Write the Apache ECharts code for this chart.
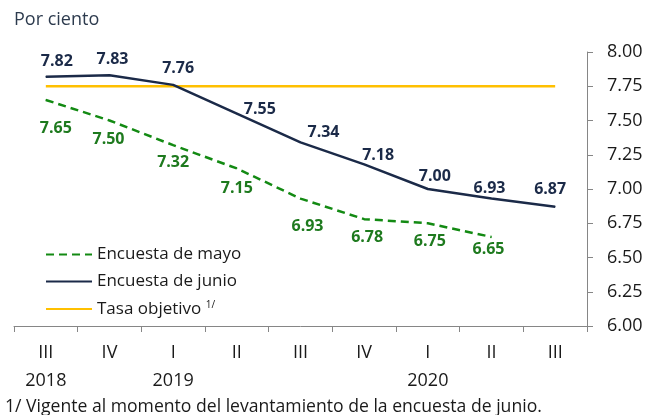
<!DOCTYPE html>
<html><head><meta charset="utf-8">
<script src="https://cdn.jsdelivr.net/npm/echarts@6/dist/echarts.min.js"></script>
<style>html,body{margin:0;padding:0;background:#fff}#c{width:661px;height:415px}</style>
</head><body><div id="c"></div>
<script>
var categories = ['III','IV','I','II','III','IV','I','II','III'];
var years = ['2018','','2019','','','','2020','',''];
var junio = [7.82,7.83,7.76,7.55,7.34,7.18,7.00,6.93,6.87];
var mayo = [7.65,7.50,7.32,7.15,6.93,6.78,6.75,6.65];
var tasa = [7.75,7.75,7.75,7.75,7.75,7.75,7.75,7.75,7.75];
var yTicks = {min:6, max:8, interval:0.25};

var junioOff = [[11,-15],[3,-16],[5,-16],[23,-4],[23,-10],[14,-9],[7,-13],[-2,-10],[-5,-17]];
var mayoOff = [[10,28],[-1,19],[0,17],[0,20],[7,28],[3,18],[2,18],[-3,12]];

var FONT = '"Open Sans", sans-serif';
function items(vals, offs){
  return vals.map(function(v,i){return {value:v, label:{offset:offs[i]}};});
}
var chart = echarts.init(document.getElementById('c'));
chart.setOption({
  animation:false,
  textStyle:{fontFamily:FONT},
  title:{text:'Por ciento', left:9, top:6, textStyle:{fontFamily:FONT, fontSize:18, fontWeight:'normal', color:'#2d3b4e'}},
  graphic:[{type:'text', left:5, top:398, style:{text:'1/ Vigente al momento del levantamiento de la encuesta de junio.', font:'17.6px '+FONT, fill:'#1a1a1a'}}],
  grid:{left:14, right:74, top:52, bottom:89, containLabel:false},
  legend:{
    orient:'vertical', left:40, top:241, itemWidth:46, itemHeight:14, itemGap:10,
    itemStyle:{opacity:0},
    textStyle:{fontFamily:FONT, fontSize:17, color:'#1a1a1a', rich:{sup:{fontSize:10, verticalAlign:'top', padding:[0,0,8,0], color:'#1a1a1a', fontFamily:FONT}}},
    formatter:function(n){return n==='Tasa objetivo' ? 'Tasa objetivo {sup|1/}' : n;},
    data:['Encuesta de mayo','Encuesta de junio','Tasa objetivo']
  },
  xAxis:{
    type:'category', data:categories, boundaryGap:true,
    axisLine:{lineStyle:{color:'#868686', width:1}},
    axisTick:{show:true, length:6, lineStyle:{color:'#868686'}},
    axisLabel:{fontFamily:FONT, fontSize:18, color:'#1a1a1a', lineHeight:28, margin:13, interval:0,
      formatter:function(v,i){return years[i] ? v+'\n'+years[i] : v;}}
  },
  yAxis:{
    type:'value', position:'right', min:yTicks.min, max:yTicks.max, interval:yTicks.interval,
    splitLine:{show:false},
    axisLine:{show:true, lineStyle:{color:'#868686', width:1}},
    axisTick:{show:true, length:6, inside:false, lineStyle:{color:'#868686'}},
    axisLabel:{fontFamily:FONT, fontSize:18, color:'#1a1a1a', margin:20, formatter:function(v){return v.toFixed(2);}}
  },
  series:[
    {name:'Encuesta de mayo', type:'line', data:items(mayo, mayoOff), symbol:'circle', symbolSize:1, showSymbol:true,
      lineStyle:{color:'#138a13', width:2.5, type:[8,5]}, itemStyle:{color:'#138a13'},
      label:{show:true, position:'inside', fontFamily:FONT, fontSize:16, fontWeight:'bold', color:'#1e7a1e', formatter:function(p){return p.value.toFixed(2);}}, z:3},
    {name:'Encuesta de junio', type:'line', data:items(junio, junioOff), symbol:'circle', symbolSize:1, showSymbol:true,
      lineStyle:{color:'#1b2a48', width:2.5}, itemStyle:{color:'#1b2a48'},
      label:{show:true, position:'inside', fontFamily:FONT, fontSize:16, fontWeight:'bold', color:'#1b2a48', formatter:function(p){return p.value.toFixed(2);}}, z:4},
    {name:'Tasa objetivo', type:'line', data:tasa, symbol:'none',
      lineStyle:{color:'#ffc000', width:2.5}, itemStyle:{color:'#ffc000'}, label:{show:false}, z:2}
  ]
});
</script></body></html>
